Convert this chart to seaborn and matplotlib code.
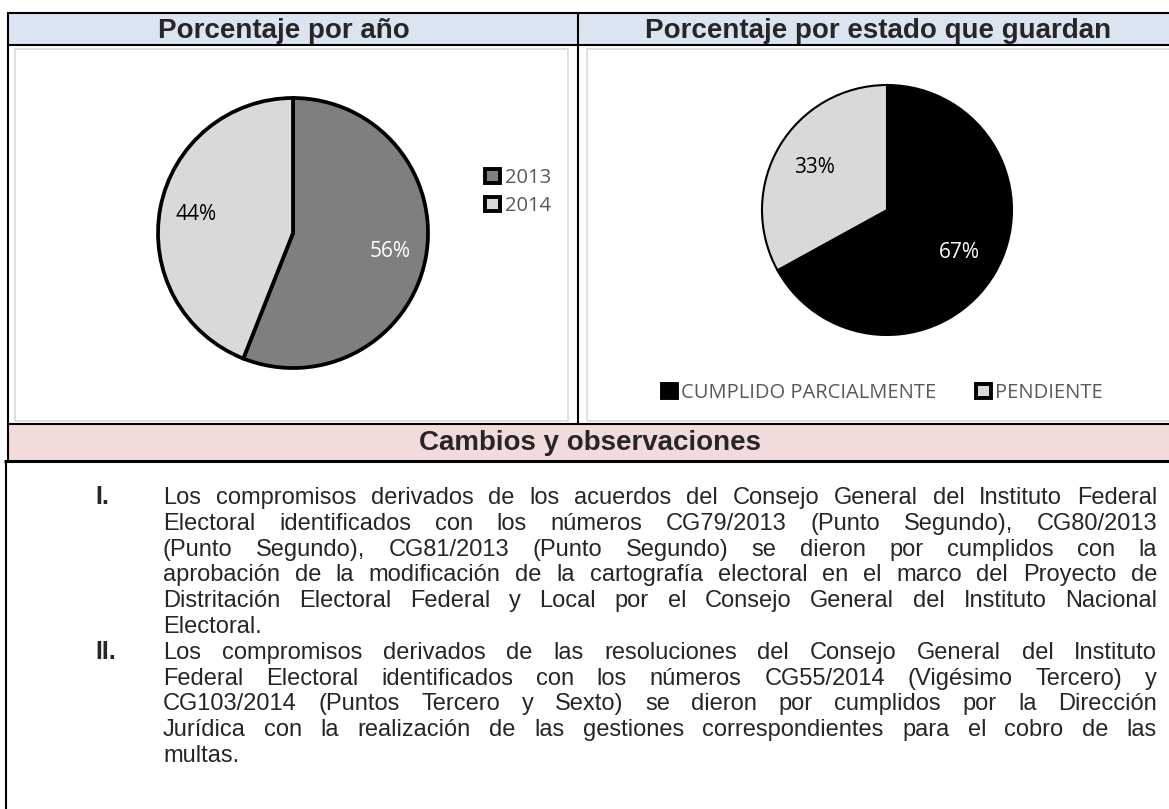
"""
Ficha de seguimiento: porcentaje por año y por estado que guardan,
con la tabla de cambios y observaciones debajo.
"""
import numpy as np
import matplotlib
matplotlib.use('Agg')
import matplotlib.pyplot as plt
import seaborn as sns
from matplotlib.patches import Rectangle, Patch
from matplotlib.lines import Line2D

# Data
years = ['2013', '2014']
year_pct = [56, 44]
estados = ['CUMPLIDO PARCIALMENTE', 'PENDIENTE']
estado_pct = [67, 33]

headers = ['Porcentaje por año', 'Porcentaje por estado que guardan']
section_title = 'Cambios y observaciones'
numerals = ['I.', 'II.']
paragraphs = [
    ['Los compromisos derivados de los acuerdos del Consejo General del Instituto Federal',
     'Electoral identificados con los números CG79/2013 (Punto Segundo), CG80/2013',
     '(Punto Segundo), CG81/2013 (Punto Segundo) se dieron por cumplidos con la',
     'aprobación de la modificación de la cartografía electoral en el marco del Proyecto de',
     'Distritación Electoral Federal y Local por el Consejo General del Instituto Nacional',
     'Electoral.'],
    ['Los compromisos derivados de las resoluciones del Consejo General del Instituto',
     'Federal Electoral identificados con los números CG55/2014 (Vigésimo Tercero) y',
     'CG103/2014 (Puntos Tercero y Sexto) se dieron por cumplidos por la Dirección',
     'Jurídica  con la realización de las gestiones correspondientes para el cobro de las',
     'multas.'],
]

sns.set_theme(style='white')
plt.rcParams['font.family'] = ['Liberation Sans', 'DejaVu Sans']

year_colors = ['#7f7f7f', '#d9d9d9']
estado_colors = ['#000000', '#d9d9d9']
HEAD_BLUE = '#dbe5f1'
PINK = '#f2dcdb'
LEGEND_GREY = '#595959'

W, H = 1169, 809
fig = plt.figure(figsize=(W / 100, H / 100), dpi=100)
fig.patch.set_facecolor('white')


def fx(x):
    return x / W


def fy(y):
    return 1 - y / H


def box(x0, y0, x1, y1, fc='none', ec='none', lw=0):
    fig.add_artist(Rectangle((fx(x0), fy(y1)), (x1 - x0) / W, (y1 - y0) / H,
                             transform=fig.transFigure, facecolor=fc,
                             edgecolor=ec, linewidth=lw))


def line(x0, y0, x1, y1, lw=1.5, color='black'):
    fig.add_artist(Line2D([fx(x0), fx(x1)], [fy(y0), fy(y1)],
                          transform=fig.transFigure, color=color, lw=lw,
                          solid_capstyle='butt'))


# table frame
DIV = 578
box(8, 13, W, 45, fc=HEAD_BLUE)
box(8, 424, W, 461, fc=PINK)
box(15, 49, DIV - 10, 421, ec='#d9d9d9', lw=1.2)
box(DIV + 9, 49, W + 5, 421, ec='#d9d9d9', lw=1.2)

line(7, 13, W, 13)
line(7, 45, W, 45)
line(8, 13, 8, 461)
line(DIV, 13, DIV, 424)
line(7, 424, W, 424)
line(4, 461, W, 461, lw=2.2)
line(5.5, 461, 5.5, H)

head_kw = dict(ha='center', va='baseline', fontsize=20, fontweight='bold')
fig.text(fx(284), fy(38), headers[0], **head_kw)
fig.text(fx(878), fy(38), headers[1], **head_kw)
fig.text(fx(590), fy(450), section_title, **head_kw)

pie_font = {'family': ['Open Sans', 'DejaVu Sans'], 'size': 15}


def pie_axes(cx, cy, r):
    pad = 1.03
    return fig.add_axes([fx(cx - r * pad), fy(cy + r * pad),
                         2 * r * pad / W, 2 * r * pad / H])


# pie 1: por año
ax1 = pie_axes(293, 233, 135)
w1, _, at1 = ax1.pie(year_pct, colors=year_colors, startangle=90,
                     counterclock=False, autopct=lambda p: f'{p:.0f}%',
                     pctdistance=0.73, textprops=pie_font,
                     wedgeprops={'edgecolor': 'black', 'linewidth': 2.7})
for t, c in zip(at1, ['white', 'black']):
    t.set_color(c)
ax1.set_xlim(-1.03, 1.03)
ax1.set_ylim(-1.03, 1.03)
ax1.set_facecolor('none')

# pie 2: por estado
ax2 = pie_axes(887, 210, 125)
w2, _, at2 = ax2.pie(estado_pct, colors=estado_colors, startangle=90,
                     counterclock=False, autopct=lambda p: f'{p:.0f}%',
                     pctdistance=0.67, textprops=pie_font,
                     wedgeprops={'edgecolor': 'black', 'linewidth': 1.5})
for t, c in zip(at2, ['white', 'black']):
    t.set_color(c)
ax2.set_xlim(-1.03, 1.03)
ax2.set_ylim(-1.03, 1.03)
ax2.set_facecolor('none')

leg_font = {'family': ['Open Sans', 'DejaVu Sans'], 'size': 14.5}
h1 = [Patch(facecolor=c, edgecolor='black', linewidth=2.8) for c in year_colors]
fig.legend(h1, years, loc='upper left', bbox_to_anchor=(fx(475), fy(158)),
           frameon=False, handlelength=0.75, handleheight=0.75,
           handletextpad=0.25, labelspacing=0.4, borderpad=0, prop=leg_font,
           labelcolor=LEGEND_GREY)

h2 = [Patch(facecolor=c, edgecolor='black', linewidth=2.8) for c in estado_colors]
fig.legend(h2, estados, loc='center left', bbox_to_anchor=(fx(652), fy(393)),
           ncol=2, frameon=False, handlelength=0.72, handleheight=0.72,
           handletextpad=0.2, columnspacing=2.0, borderpad=0, prop=leg_font,
           labelcolor=LEGEND_GREY)

# justified body text
renderer = fig.canvas.get_renderer()
LEFT, RIGHT = 163, 1157
BASE, PITCH = 504, 25.8
body_size = 17

row = 0
for num, lines in zip(numerals, paragraphs):
    y0 = BASE + row * PITCH
    fig.text(fx(95), fy(y0), num, ha='left', va='baseline',
             fontsize=18, fontweight='bold')
    for i, ln in enumerate(lines):
        y = BASE + row * PITCH
        if i == len(lines) - 1:
            fig.text(fx(LEFT), fy(y), ln, ha='left', va='baseline',
                     fontsize=body_size)
        else:
            words = ln.split()
            arts = [fig.text(0, fy(y), wd, ha='left', va='baseline',
                             fontsize=body_size) for wd in words]
            widths = [a.get_window_extent(renderer).width for a in arts]
            gap = (RIGHT - LEFT - sum(widths)) / (len(words) - 1)
            x = LEFT
            for a, wdt in zip(arts, widths):
                a.set_x(fx(x))
                x += wdt + gap
        row += 1

fig.savefig('out.png', dpi=100)
plt.close(fig)
